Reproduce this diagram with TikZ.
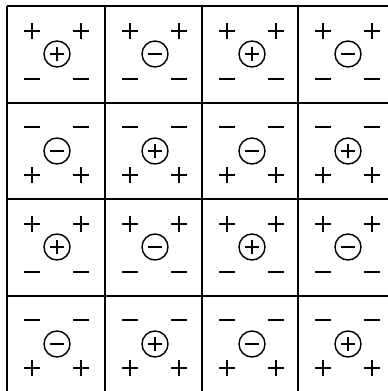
\documentclass[tikz,border=0pt]{standalone}
\begin{document}
\begin{tikzpicture}[x=1pt,y=-1pt,
  gridline/.style={line width=1.5pt,black},
  signline/.style={line width=1.6pt,black,line cap=butt},
  circ/.style={circle,draw,line width=1.4pt,minimum size=26pt,inner sep=0pt}]
\useasboundingbox (0,0) rectangle (388,391);
% grid
\foreach \x in {7,105,202,298} \draw[gridline] (\x,6) -- (\x,395);
\foreach \y in {6,103,199,296} \draw[gridline] (7,\y) -- (395,\y);
% cells
\foreach \i/\x in {0/7,1/105,2/202,3/298}{
 \foreach \j/\y in {0/6,1/103,2/199,3/296}{
  \pgfmathtruncatemacro\p{mod(\i+\j,2)}
  \pgfmathtruncatemacro\r{mod(\j,2)}
  \pgfmathsetmacro\ty{\r==0 ? 25 : 24}
  \pgfmathsetmacro\by{\r==0 ? 73 : 72}
  \node[circ] (c\i\j) at (\x+50,\y+48) {};
  \draw[signline] ([xshift=-7pt]c\i\j.center) -- ([xshift=7pt]c\i\j.center);
  \ifnum\p=0
    \draw[signline] ([yshift=-7pt]c\i\j.center) -- ([yshift=7pt]c\i\j.center);
  \fi
  % minus row
  \ifnum\r=0
    \foreach \dx in {25,74}{
      \draw[signline] (\x+\dx-8,\y+\by) -- (\x+\dx+8,\y+\by);
      \draw[signline] (\x+\dx-8,\y+\ty) -- (\x+\dx+8,\y+\ty);
      \draw[signline] (\x+\dx,\y+\ty-8) -- (\x+\dx,\y+\ty+8);
    }
  \else
    \foreach \dx in {25,74}{
      \draw[signline] (\x+\dx-8,\y+\ty) -- (\x+\dx+8,\y+\ty);
      \draw[signline] (\x+\dx-8,\y+\by) -- (\x+\dx+8,\y+\by);
      \draw[signline] (\x+\dx,\y+\by-8) -- (\x+\dx,\y+\by+8);
    }
  \fi
 }
}
\end{tikzpicture}
\end{document}
